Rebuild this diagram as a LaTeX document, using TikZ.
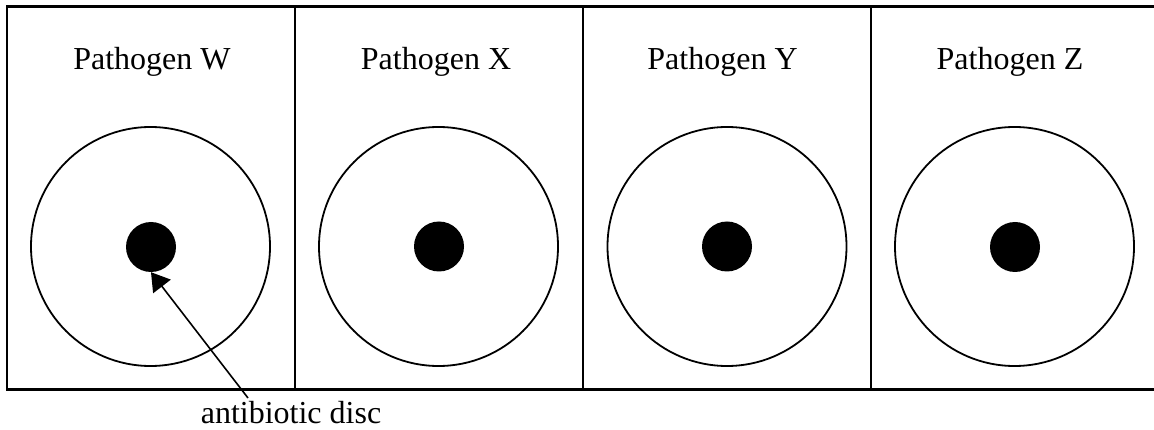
\documentclass[tikz,border=0pt]{standalone}
\usepackage{fontspec}
\setmainfont{Liberation Serif}
\usepackage{tikz}
\usetikzlibrary{arrows.meta,positioning}
\definecolor{ink}{HTML}{000000}
\tikzset{
  arr/.style={-{Triangle[length=18pt,width=22pt]}, line width=1.6pt, draw=ink},
  figbase/.style={
    x=1pt, y=-1pt,
    font=\fontsize{32}{38}\selectfont,
    color=ink,
    line join=miter,
  },
  plate/.style={draw=ink, line width=2.2pt},
  zone/.style={circle, draw=ink, line width=1.8pt, minimum size=239pt, inner sep=0pt},
  disc/.style={circle, fill=ink, minimum size=50pt, inner sep=0pt},
  head/.style={anchor=base, inner sep=0pt, text=ink},
  lab/.style={anchor=base, inner sep=0pt, text=ink},
}
\begin{document}
\begin{tikzpicture}[figbase]
  \useasboundingbox (0,0) rectangle (1154,430);

  % plate outline, open on the right
  \draw[plate] (1154,6.5) -- (7,6.5) -- (7,389.5) -- (1154,389.5);
  \draw[plate] (295,6.5) -- (295,389.5);
  \draw[plate] (583,6.5) -- (583,389.5);
  \draw[plate] (871,6.5) -- (871,389.5);

  \node[head] (hw) at (152,70) {Pathogen W};
  \node[head] (hx) at (436,70) {Pathogen X};
  \node[head] (hy) at (722.5,70) {Pathogen Y};
  \node[head] (hz) at (1010,70) {Pathogen Z};

  \node[zone] (zw) at (150.5,246.5) {};
  \node[zone] (zx) at (438.5,246.5) {};
  \node[zone] (zy) at (727,246.5) {};
  \node[zone] (zz) at (1014.5,246.5) {};

  \node[disc] (dw) at (151,247) {};
  \node[disc] (dx) at (439,246.5) {};
  \node[disc] (dy) at (727,246.5) {};
  \node[disc] (dz) at (1015,247) {};

  \node[lab] (ab) at (291,423) {antibiotic disc};
  \coordinate (tail) at (248,398);
  \draw[arr] (tail) -- (dw.south);
\end{tikzpicture}
\end{document}
